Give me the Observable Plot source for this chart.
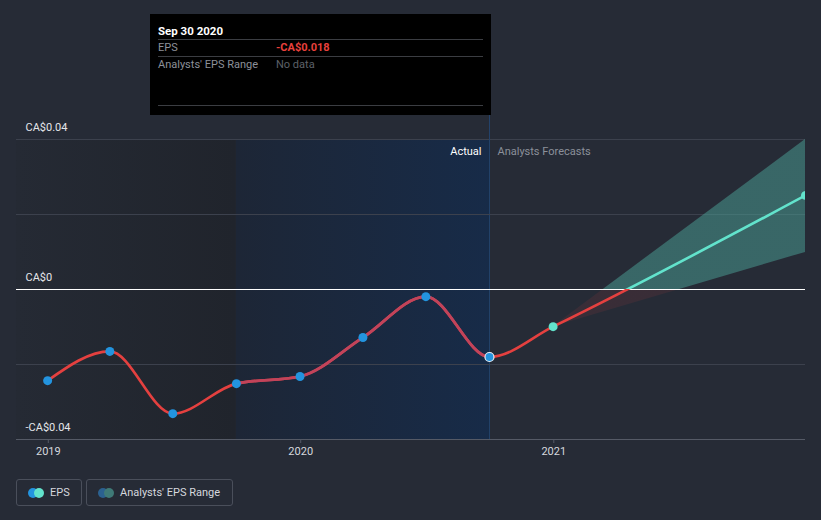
<!DOCTYPE html>
<html><head><meta charset="utf-8">
<script src="https://cdn.jsdelivr.net/npm/d3@7"></script>
<script src="https://cdn.jsdelivr.net/npm/@observablehq/plot@0.6"></script>
<style>
html,body{margin:0;padding:0;background:#262b36;}
#wrap{position:relative;width:821px;height:520px;overflow:hidden;background:#262b36;font-family:Roboto,"Noto Sans",sans-serif;}
#chart{position:absolute;left:0;top:0;}
#tip{position:absolute;left:150px;top:14px;width:341px;height:101px;background:#000;font-size:11px;color:#8d9099;}
#tip .row{position:absolute;left:8px;right:8px;border-bottom:1px solid #3b3d42;}
#tip .k{position:absolute;left:0;top:0;}
#tip .v{position:absolute;left:118px;top:0;}
#hover{position:absolute;left:489px;top:115px;width:1px;height:25px;background:#23426a;}
#legend{position:absolute;left:16px;top:479px;display:flex;gap:4px;}
.lg{box-sizing:border-box;height:27px;border:1px solid #4a4f5b;border-radius:3px;display:flex;align-items:center;padding:0 0 0 11px;font-size:11px;color:#d5d8de;}
.dots{position:relative;width:16px;height:10px;margin-right:6px;}
.dots span{position:absolute;top:0;width:10px;height:10px;border-radius:50%;}
</style></head>
<body><div id="wrap">
<div id="chart"></div>
<div id="hover"></div>
<div id="tip">
  <div class="row" style="top:9px;height:16px;"><span class="k" style="color:#fff;font-weight:bold;font-size:11.5px;line-height:16px;">Sep 30 2020</span></div>
  <div class="row" style="top:26px;height:16px;"><span class="k" style="line-height:16px;">EPS</span><span class="v" style="color:#e8403c;font-weight:bold;line-height:16px;">-CA$0.018</span></div>
  <div class="row" style="top:43px;height:48px;"><span class="k" style="line-height:16px;">Analysts' EPS Range</span><span class="v" style="color:#5d6068;line-height:16px;">No data</span></div>
</div>
<div id="legend">
  <div class="lg" style="width:66px;"><div class="dots"><span style="left:0;background:#2394df"></span><span style="left:6px;background:#62e3cc"></span></div>EPS</div>
  <div class="lg" style="width:147px;"><div class="dots"><span style="left:0;background:#2b6190"></span><span style="left:6px;background:#3f7a77"></span></div>Analysts' EPS Range</div>
</div>
</div>
<script>
// ---- data ----
const actualDates = ["2018-12-31","2019-03-31","2019-06-30","2019-09-30","2019-12-31","2020-03-31","2020-06-30","2020-09-30"];
const actualEps   = [-0.0243, -0.0165, -0.0331, -0.0251, -0.0232, -0.0128, -0.0019, -0.018];
const forecastDates = ["2020-12-31","2021-12-31"];
const forecastEps   = [-0.0099, 0.0251];
const rangeLow  = [-0.0099, 0.0099];
const rangeHigh = [-0.0099, 0.04];
const yLabelValues = [0.04, 0, -0.04];
const yLabelText   = ["CA$0.04", "CA$0", "-CA$0.04"];
const gridValues = [0.04, 0.02, -0.02];
const xTickDates = ["2019-01-01","2020-01-01","2021-01-01"];
const xDomain = ["2018-11-16","2021-12-31"];
const pastStart = "2019-09-30", pastEnd = "2020-09-30";

const P = s => new Date(s + "T00:00:00Z");
const epsSeries = actualDates.map((d,i)=>({date:P(d), eps:actualEps[i]}))
  .concat(forecastDates.map((d,i)=>({date:P(d), eps:forecastEps[i]})));
const actualPts = actualDates.map((d,i)=>({date:P(d), eps:actualEps[i]}));
const forecastPts = forecastDates.map((d,i)=>({date:P(d), eps:forecastEps[i]}));
const rangeData = forecastDates.map((d,i)=>({date:P(d), lo:rangeLow[i], hi:rangeHigh[i]}));
const yLabels = yLabelValues.map((v,i)=>({v, t:yLabelText[i]}));
const x0 = P(xDomain[0]);

const plot = Plot.plot({
  width: 821, height: 470,
  marginTop: 139, marginBottom: 31, marginLeft: 16, marginRight: 16,
  style: {background: "transparent", color: "#d5d8de", fontFamily: "Roboto, 'Noto Sans', sans-serif", fontSize: "11px", overflow: "visible"},
  x: {type: "utc", domain: xDomain.map(P), axis: null},
  y: {domain: [-0.04, 0.04], axis: null},
  marks: [
    Plot.rectY([{a:x0, b:P(pastStart)}], {x1:"a", x2:"b", y1:-0.04, y2:0.04, fill:"url(#darkGrad)"}),
    Plot.rectY([{a:P(pastStart), b:P(pastEnd)}], {x1:"a", x2:"b", y1:-0.04, y2:0.04, fill:"url(#bandGrad)"}),
    Plot.ruleX([P(pastEnd)], {stroke:"#23426a", strokeWidth:1}),
    Plot.ruleY(gridValues, {stroke:"#3c414d", strokeWidth:1}),
    Plot.ruleY([-0.04], {stroke:"#555a66", strokeWidth:1}),
    Plot.axisX(xTickDates.map(P), {tickSize:4, tickPadding:4, tickFormat:"%Y", stroke:"#555a66", fill:"#d5d8de", label:null, fontSize:11}),
    Plot.areaY(rangeData, {x:"date", y1:"lo", y2:"hi", fill:"url(#rangeGrad)", clip:true}),
    Plot.ruleY([0], {stroke:"#ffffff", strokeWidth:1}),
    Plot.line(epsSeries, {x:"date", y:"eps", curve:"monotone-x", stroke:"url(#lineGrad)", strokeWidth:2.6, clip:true}),
    Plot.line(epsSeries, {x:"date", y:"eps", curve:"monotone-x", stroke:"url(#mutedGrad)", strokeWidth:2.8, clip:true}),
    Plot.dot(actualPts, {x:"date", y:"eps", r:4.5, fill:"#2394df", stroke:(d,i)=> i===actualPts.length-1 ? "#e8eef5" : "none", strokeWidth:1.2}),
    Plot.dot(forecastPts, {x:"date", y:"eps", r:4.5, fill:"#62e3cc", clip:true}),
    Plot.text(yLabels, {x:()=>x0, y:"v", text:"t", dx:9, dy:-12, textAnchor:"start", fill:"#e4e6ea", fontSize:11}),
    Plot.text([P(pastEnd)], {x:d=>d, y:()=>0.04, text:()=>"Actual", dx:-8, dy:12, textAnchor:"end", fill:"#ffffff", fontSize:11}),
    Plot.text([P(pastEnd)], {x:d=>d, y:()=>0.04, text:()=>"Analysts Forecasts", dx:8, dy:12, textAnchor:"start", fill:"#8b909a", fontSize:11})
  ]
});

const ys = plot.scale("y"), xs = plot.scale("x");
const yTop = ys.apply(0.04), yBot = ys.apply(-0.04), yZero = ys.apply(0);
const f = (yZero - yTop) / (yBot - yTop);
const W = 821;
const a = xs.apply(P(pastStart)) / W, b = xs.apply(P(pastEnd)) / W;
const NS = "http://www.w3.org/2000/svg";
const defs = document.createElementNS(NS, "defs");
defs.innerHTML = `
<linearGradient id="lineGrad" gradientUnits="userSpaceOnUse" x1="0" y1="${yTop}" x2="0" y2="${yBot}">
  <stop offset="${f}" stop-color="#62e3cc"/><stop offset="${f}" stop-color="#e5403f"/>
</linearGradient>
<linearGradient id="mutedGrad" gradientUnits="userSpaceOnUse" x1="0" y1="0" x2="${W}" y2="0">
  <stop offset="${a}" stop-color="#c2435a" stop-opacity="0"/><stop offset="${a}" stop-color="#c2435a" stop-opacity="1"/>
  <stop offset="${b}" stop-color="#c2435a" stop-opacity="1"/><stop offset="${b}" stop-color="#c2435a" stop-opacity="0"/>
</linearGradient>
<linearGradient id="rangeGrad" gradientUnits="userSpaceOnUse" x1="0" y1="${yTop}" x2="0" y2="${yBot}">
  <stop offset="${f}" stop-color="#4a9e94" stop-opacity="0.52"/><stop offset="${f}" stop-color="#e5403f" stop-opacity="0.1"/>
</linearGradient>
<linearGradient id="bandGrad" x1="0" y1="0" x2="1" y2="0">
  <stop offset="0" stop-color="#1d2636"/><stop offset="1" stop-color="#172b48"/>
</linearGradient>
<linearGradient id="darkGrad" x1="0" y1="0" x2="1" y2="0">
  <stop offset="0" stop-color="#252a34"/><stop offset="1" stop-color="#20242c"/>
</linearGradient>`;
plot.insertBefore(defs, plot.firstChild);
document.getElementById("chart").appendChild(plot);
</script>
</body></html>
